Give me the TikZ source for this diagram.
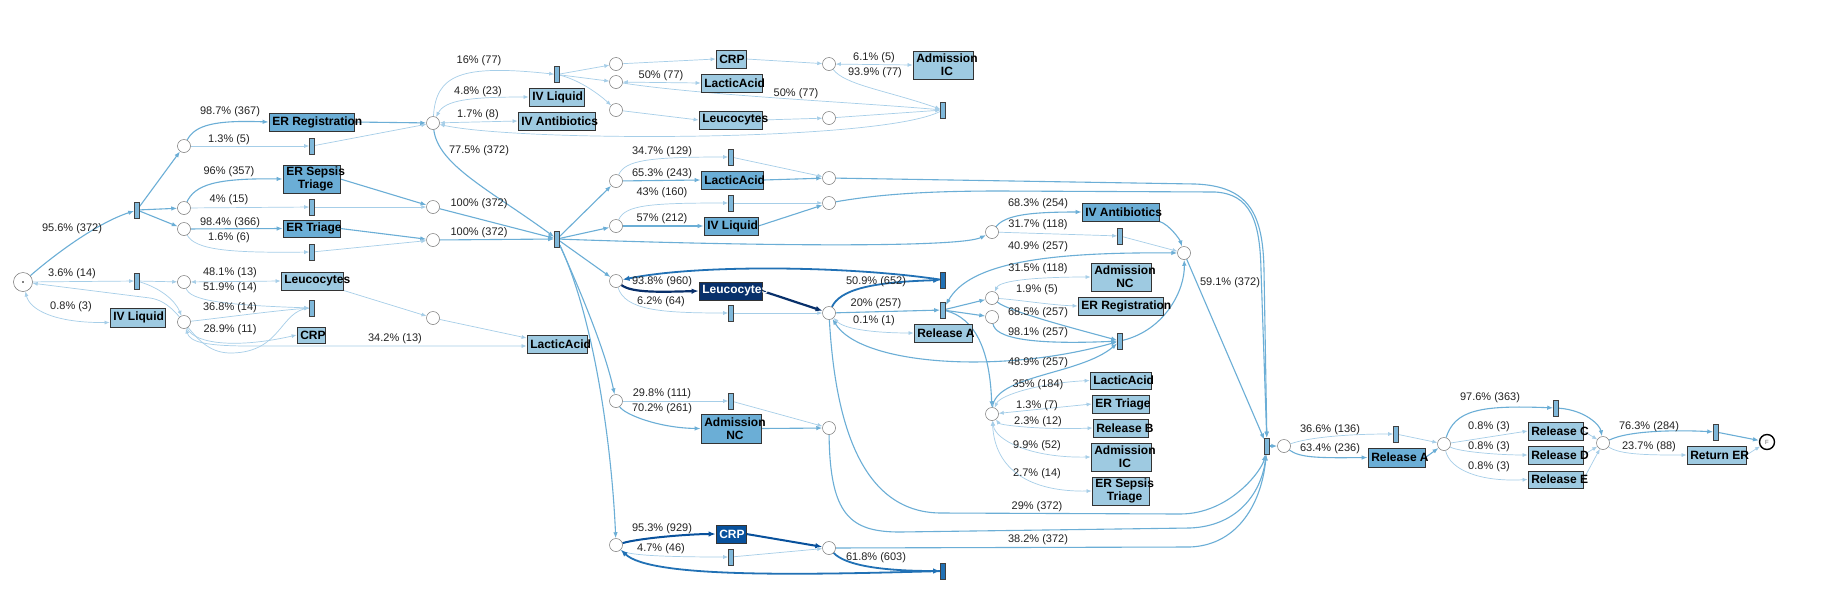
\documentclass[tikz,border=0pt]{standalone}
\usepackage{fontspec}
\setmainfont{Liberation Sans}
\usetikzlibrary{arrows.meta}
\definecolor{edgeL}{HTML}{A6CEE8}
\definecolor{edgeM}{HTML}{6BAED6}
\definecolor{edgeD}{HTML}{08306B}
\definecolor{edgeC}{HTML}{08519C}
\definecolor{edgeB}{HTML}{2171B5}
\definecolor{boxL}{HTML}{9ECAE1}
\definecolor{boxM}{HTML}{6BAED6}
\definecolor{boxD}{HTML}{08306B}
\definecolor{boxC}{HTML}{08519C}
\definecolor{gwL}{HTML}{7FB8DA}
\definecolor{gwD}{HTML}{2171B5}
\definecolor{labtxt}{HTML}{222222}
\pgfdeclarelayer{bg}
\pgfdeclarelayer{edges}
\pgfsetlayers{bg,edges,main}
\newcommand\actnode[7]{%
  \pgfmathsetmacro\actw{#5-#3}%
  \pgfmathsetmacro\acth{#6-#4}%
  \node[#2, minimum width=\actw pt, minimum height=\acth pt,
    label={[acttxt]west:#7}] (#1) at ({(#3+#5)/2},{(#4+#6)/2}) {};}
\begin{document}
\begin{tikzpicture}[x=1pt,y=-1pt,
  cn/.style={circle, draw=black!55, fill=white, line width=0.5pt, minimum size=13pt, inner sep=0pt},
  startn/.style={circle, draw=black!55, fill=white, line width=0.5pt, minimum size=19pt, inner sep=0pt},
  endn/.style={circle, draw=black, fill=white, line width=1.4pt, minimum size=15pt, inner sep=0pt, font=\fontsize{6}{6}\selectfont, text=black!60},
  gw/.style={rectangle, draw=black!75, fill=gwL, line width=0.6pt, minimum width=5pt, minimum height=16pt, inner sep=0pt},
  gwd/.style={gw, fill=gwD},
  act/.style={rectangle, draw=black!80, line width=0.8pt, inner sep=0pt},
  actL/.style={act, fill=boxL},
  actM/.style={act, fill=boxM},
  actD/.style={act, fill=boxD},
  actC/.style={act, fill=boxC},
  acttxt/.style={font=\fontsize{12}{13}\selectfont\bfseries, anchor=west, xshift=3.5pt, inner sep=0pt, align=center},
  elab/.style={font=\fontsize{11}{12}\selectfont, text=labtxt, inner sep=0pt},
  eL/.style={draw=edgeL, line width=0.7pt, -{Latex[length=5pt,width=4pt]}},
  eLb/.style={draw=edgeL, line width=0.7pt, {Latex[length=5pt,width=4pt]}-{Latex[length=5pt,width=4pt]}},
  eM/.style={draw=edgeM, line width=1.1pt, -{Latex[length=6pt,width=4.5pt]}},
  eMb/.style={draw=edgeM, line width=1.1pt, {Latex[length=6pt,width=4.5pt]}-{Latex[length=6pt,width=4.5pt]}},
  eB/.style={draw=edgeB, line width=1.8pt, -{Latex[length=7pt,width=5.5pt]}},
  eDk/.style={draw=edgeD, line width=2.2pt, -{Latex[length=7pt,width=5.5pt]}},
  eC/.style={draw=edgeC, line width=2pt, -{Latex[length=7pt,width=5.5pt]}},
]
\useasboundingbox (0,0) rectangle (1826,606);
\begin{pgfonlayer}{bg}
\fill[white] (0,0) rectangle (1826,606);
\end{pgfonlayer}

% ---------- circles ----------
\node[startn] (start) at (23,282) {};
\fill[black] (start) circle (0.8);
\node[endn] (F) at (1767,442) {F};
\foreach \n/\x/\y in {c1/184/146, c2/184/208, c3/184/229, c4/184/282, c5/184/322,
  c7/433/123, c8/433/207, c9/433/240, c6/433/318,
  c10/616/64, c11/616/82, c12/616/110, c15/616/181, c16/616/226, c17/616/281, c18/616/401, c19/616/545,
  c13/829/64, c14/829/118, c21/829/178, c22/829/203, c23/829/313, c24/829/428, c25/829/548,
  c20/992/232, c27/992/298, c28/992/317, c29/992/414, c26/1184/253,
  c30/1284/446, c31/1444/444, c32/1603/443}
  \node[cn] (\n) at (\x,\y) {};

% ---------- gateways ----------
\foreach \n/\x/\y in {g1/137/210, g2/137/281, r1/312/146, r2/312/207, r3/312/252, r4/312/308,
  rtop/557/74.5, G/557/239, rla/731/157, riv/731/203, rl/731/313, rnc/731/401, rc/731/557,
  ric/943/110, rx/943/310, rab/1120/236, ry/1120/341, Gf/1267/446,
  rra/1396/434, rc2/1556/408, rre/1716/432}
  \node[gw] (\n) at (\x,\y) {};
\node[gwd] (rd1) at (943,280) {};
\node[gwd] (rd2) at (943,571) {};

% ---------- activities ----------
\actnode{ivL}{actL}{110}{308}{165}{327}{IV Liquid}
\actnode{erReg}{actM}{269}{113}{354}{131}{ER Registration}
\actnode{erSep}{actM}{283}{165}{340}{193}{ER Sepsis\\Triage}
\actnode{erTri}{actM}{283}{220}{340}{237}{ER Triage}
\actnode{leuL}{actL}{281}{272}{343}{290}{Leucocytes}
\actnode{crpL}{actL}{297}{327}{325}{343}{CRP}
\actnode{ivT}{actL}{529}{88}{584}{106}{IV Liquid}
\actnode{ivAbT}{actL}{518}{112}{595}{130}{IV Antibiotics}
\actnode{lacL}{actL}{527}{335}{587}{353}{LacticAcid}
\actnode{crpT}{actL}{716}{50}{746}{68}{CRP}
\actnode{lacT}{actL}{701}{74}{762}{92}{LacticAcid}
\actnode{leuT}{actL}{699}{111}{762}{129}{Leucocytes}
\actnode{admICT}{actL}{913}{51}{973}{79}{Admission\\IC}
\actnode{lacM}{actM}{701}{171}{763}{189}{LacticAcid}
\actnode{ivM}{actM}{704}{217}{758}{235}{IV Liquid}
\actnode{leuD}{actD}{699}{282}{762}{300}{{\color{white}Leucocytes}}
\actnode{admNCM}{actM}{701}{414}{761}{443}{Admission\\NC}
\actnode{crpD}{actC}{716}{525}{746}{543}{{\color{white}CRP}}
\actnode{relAM}{actL}{914}{324}{972}{342}{Release A}
\actnode{ivAbR}{actM}{1082}{203}{1159}{221}{IV Antibiotics}
\actnode{admNCR}{actL}{1091}{263}{1151}{291}{Admission\\NC}
\actnode{erRegR}{actL}{1078}{297}{1163}{315}{ER Registration}
\actnode{lacR}{actL}{1090}{372}{1151}{389}{LacticAcid}
\actnode{erTriR}{actL}{1092}{395}{1149}{413}{ER Triage}
\actnode{relB}{actL}{1093}{419}{1148}{437}{Release B}
\actnode{admICR}{actL}{1091}{443}{1151}{471}{Admission\\IC}
\actnode{erSepR}{actL}{1092}{477}{1149}{505}{ER Sepsis\\Triage}
\actnode{relAR}{actM}{1368}{448}{1425}{467}{Release A}
\actnode{relC}{actL}{1528}{422}{1583}{440}{Release C}
\actnode{relD}{actL}{1528}{446}{1583}{464}{Release D}
\actnode{relE}{actL}{1528}{471}{1583}{488}{Release E}
\actnode{retER}{actL}{1687}{446}{1746}{464}{Return ER}

% ---------- edges ----------
\begin{pgfonlayer}{edges}
% left
\draw[eM] (start) .. controls (60,250) and (100,222) .. (g1);
\draw[eM] (g1) -- (c1);
\draw[eM] (g1) -- (c2);
\draw[eM] (g1) -- (c3);
\draw[eM] (c1) .. controls (195,125) and (215,120) .. (erReg.west);
\draw[eL] (c1) -- (r1);
\draw[eM] (c2) .. controls (195,185) and (215,178) .. (erSep.west);
\draw[eL] (c2) -- (r2);
\draw[eM] (c3) -- (erTri.west);
\draw[eL] (c3) .. controls (195,250) and (230,253) .. (r3);
\draw[eL] (start) -- (g2);
\draw[eLb] (start) .. controls (30,310) and (55,323) .. ([yshift=-5pt]ivL.west);
\draw[eL] (g2) -- (c4);
\draw[eL] (g2) .. controls (160,288) and (175,300) .. (c5);
\draw[eLb] (c4) -- (leuL.west);
\draw[eL] (c4) .. controls (190,300) and (220,305) .. (r4);
\draw[eL] (c5) .. controls (220,318) and (280,310) .. (r4);
\draw[eL] (r4) .. controls (280,310) and (282,352) .. (232,353) .. controls (190,354) and (185,303) .. (150,298) -- (start);
\draw[eL] (c5) .. controls (195,345) and (240,348) .. (crpL.west);
\draw[eLb] (c5) .. controls (190,342) and (205,346) .. (250,346) -- ([yshift=-2pt]lacL.west);
\draw[eL] (leuL.south east) -- (c6);
\draw[eL] (c6) -- ([yshift=6pt]lacL.west);
\draw[eL] (r1) -- (c7);
\draw[eM] (erReg.east) -- (c7);
\draw[eM] (erSep.east) -- (c8);
\draw[eL] (r2) -- (c8);
\draw[eM] (erTri.east) -- (c9);
\draw[eL] (r3) -- (c9);
\draw[eM] (c8) -- (G);
\draw[eM] (c9) -- (G);
\draw[eM] (c7) .. controls (438,165) and (490,190) .. (G);
% top
\draw[eL] (c7) .. controls (436,75) and (460,64) .. (rtop);
\draw[eLb] (c7) .. controls (445,100) and (470,97) .. (ivT.west);
\draw[eLb] (c7) -- (ivAbT.west);
\draw[eL] (ric) .. controls (880,142) and (520,142) .. (c7);
\draw[eL] (rtop) -- (c10);
\draw[eL] (rtop) -- (c11);
\draw[eL] (rtop) .. controls (580,80) and (600,95) .. (c12);
\draw[eL] (c10) -- (crpT.west);
\draw[eLb] (c11) -- (lacT.west);
\draw[eL] (c12) -- (leuT.west);
\draw[eL] (crpT.east) -- (c13);
\draw[eLb] (c13) -- (admICT.west);
\draw[eL] (c13) .. controls (845,85) and (885,90) .. (ric);
\draw[eL] (c11) .. controls (700,95) and (850,102) .. (ric);
\draw[eL] (leuT.east) -- (c14);
\draw[eL] (c14) -- (ric);
% middle
\draw[eM] (G) -- (c15);
\draw[eM] (G) -- (c16);
\draw[eM] (G) -- (c17);
\draw[eM] (G) .. controls (580,290) and (605,350) .. (c18);
\draw[eM] (G) .. controls (595,320) and (612,450) .. (c19);
\draw[eM] (G) .. controls (750,246) and (960,248) .. (c20);
\draw[eL] (c15) .. controls (625,160) and (650,157) .. (rla);
\draw[eM] (c15) -- (lacM.west);
\draw[eL] (rla) -- (c21);
\draw[eM] (lacM.east) -- (c21);
\draw[eM] (c21) -- (1195,184) .. controls (1250,186) and (1263,215) .. (1264,270) -- (Gf);
\draw[eL] (c16) .. controls (625,205) and (650,203) .. (riv);
\draw[eM] (c16) -- (ivM.west);
\draw[eL] (riv) -- (c22);
\draw[eM] (ivM.east) -- (c22);
\draw[eM] (c22) .. controls (880,194) and (930,191) .. (1000,191) -- (1215,192) .. controls (1250,194) and (1260,220) .. (1261,270) -- (Gf);
\draw[eDk] (c17) .. controls (632,293) and (660,292) .. (leuD.west);
\draw[eL] (c17) .. controls (625,310) and (660,313) .. (rl);
\draw[eDk] (leuD.east) -- (c23);
\draw[eL] (rl) -- (c23);
\draw[eB] (c23) .. controls (840,290) and (870,282) .. (rd1);
\draw[eB] (rd1) .. controls (850,266) and (700,264) .. (c17);
\draw[eM] (c23) -- (rx);
\draw[eLb] (c23) .. controls (845,330) and (880,333) .. (relAM.west);
\draw[eMb] (ry) .. controls (1000,375) and (860,365) .. (c23);
\draw[eM] (c23) .. controls (835,420) and (860,512) .. (940,513) -- (1180,514) .. controls (1230,514) and (1262,470) .. (Gf);
\draw[eM] (rx) -- (c27);
\draw[eM] (rx) -- (c28);
\draw[eM] (rx) .. controls (975,318) and (990,350) .. (c29);
\draw[eL] (c18) -- (rnc);
\draw[eM] (c18) .. controls (625,415) and (660,428) .. (admNCM.west);
\draw[eL] (rnc) -- (c24);
\draw[eM] (admNCM.east) -- (c24);
\draw[eM] (c24) .. controls (830,515) and (850,532) .. (900,532) -- (1190,528) .. controls (1240,526) and (1262,490) .. (Gf);
\draw[eC] (c19) .. controls (640,538) and (690,534) .. (crpD.west);
\draw[eL] (c19) .. controls (625,555) and (660,557) .. (rc);
\draw[eC] (crpD.east) -- (c25);
\draw[eL] (rc) -- (c25);
\draw[eB] (c25) .. controls (845,565) and (880,571) .. (rd2);
\draw[eB] (rd2) .. controls (800,575) and (650,578) .. (c19);
\draw[eM] (c25) -- (1190,547) .. controls (1240,545) and (1262,500) .. (Gf);
% right middle
\draw[eM] (c20) .. controls (1005,215) and (1030,212) .. (ivAbR.west);
\draw[eL] (c20) -- (rab);
\draw[eM] (ivAbR.south east) .. controls (1170,225) and (1180,240) .. (c26);
\draw[eL] (rab) -- (c26);
\draw[eMb] (rx) .. controls (970,262) and (1050,252) .. (c26);
\draw[eLb] (c27) .. controls (1000,280) and (1040,277) .. (admNCR.west);
\draw[eL] (c27) .. controls (1020,300) and (1050,305) .. (erRegR.west);
\draw[eM] (c27) .. controls (1010,312) and (1080,330) .. (ry);
\draw[eM] (c28) .. controls (995,338) and (1030,345) .. (ry);
\draw[eM] (ry) .. controls (1165,330) and (1185,290) .. (c26);
\draw[eM] (c29) .. controls (995,375) and (1080,375) .. (ry);
\draw[eLb] (c29) .. controls (1000,395) and (1040,383) .. (lacR.west);
\draw[eLb] (c29) -- (erTriR.west);
\draw[eLb] (c29) .. controls (1000,425) and (1040,430) .. (relB.west);
\draw[eLb] (c29) .. controls (995,440) and (1030,458) .. (admICR.west);
\draw[eLb] (c29) .. controls (995,470) and (1030,492) .. (erSepR.west);
\draw[eM] (c26) -- (Gf);
% right end
\draw[eM] (Gf) -- (c30);
\draw[eL] (c30) .. controls (1310,437) and (1350,434) .. (rra);
\draw[eM] (c30) .. controls (1300,458) and (1320,458) .. (relAR.west);
\draw[eL] (rra) -- (c31);
\draw[eM] (relAR.east) -- (c31);
\draw[eM] (c31) .. controls (1455,410) and (1480,405) .. (rc2);
\draw[eL] (c31) -- (relC.west);
\draw[eL] (c31) .. controls (1460,452) and (1500,455) .. (relD.west);
\draw[eL] (c31) .. controls (1450,470) and (1480,482) .. (relE.west);
\draw[eM] (rc2) .. controls (1585,410) and (1600,425) .. (c32);
\draw[eL] (relC.east) -- (c32);
\draw[eL] (relD.east) -- (c32);
\draw[eL] (relE.east) -- (c32);
\draw[eM] (c32) .. controls (1630,430) and (1680,430) .. (rre);
\draw[eL] (c32) .. controls (1620,455) and (1650,455) .. (retER.west);
\draw[eM] (rre) -- (F);
\draw[eL] (retER.east) -- (F);
\end{pgfonlayer}

% ---------- edge labels ----------
\node[elab] (l1) at (72,229) {95.6\% (372)};
\node[elab] (l2) at (230,112) {98.7\% (367)};
\node[elab] (l3) at (229,140) {1.3\% (5)};
\node[elab] (l4) at (229,172) {96\% (357)};
\node[elab] (l5) at (229,200) {4\% (15)};
\node[elab] (l6) at (230,223) {98.4\% (366)};
\node[elab] (l7) at (229,238) {1.6\% (6)};
\node[elab] (l8) at (72,274) {3.6\% (14)};
\node[elab] (l9) at (71,307) {0.8\% (3)};
\node[elab] (l10) at (230,273) {48.1\% (13)};
\node[elab] (l11) at (230,288) {51.9\% (14)};
\node[elab] (l12) at (230,308) {36.8\% (14)};
\node[elab] (l13) at (230,330) {28.9\% (11)};
\node[elab] (l14) at (395,339) {34.2\% (13)};
\node[elab] (l15) at (479,61) {16\% (77)};
\node[elab] (l16) at (478,92) {4.8\% (23)};
\node[elab] (l17) at (478,115) {1.7\% (8)};
\node[elab] (l18) at (479,151) {77.5\% (372)};
\node[elab] (l19) at (479,204) {100\% (372)};
\node[elab] (l20) at (479,233) {100\% (372)};
\node[elab] (l21) at (661,76) {50\% (77)};
\node[elab] (l22) at (796,94) {50\% (77)};
\node[elab] (l23) at (874,58) {6.1\% (5)};
\node[elab] (l24) at (875,73) {93.9\% (77)};
\node[elab] (l25) at (662,152) {34.7\% (129)};
\node[elab] (l26) at (662,174) {65.3\% (243)};
\node[elab] (l27) at (662,193) {43\% (160)};
\node[elab] (l28) at (662,219) {57\% (212)};
\node[elab] (l29) at (662,282) {93.8\% (960)};
\node[elab] (l30) at (661,302) {6.2\% (64)};
\node[elab] (l31) at (876,282) {50.9\% (652)};
\node[elab] (l32) at (876,304) {20\% (257)};
\node[elab] (l33) at (874,321) {0.1\% (1)};
\node[elab] (l34) at (662,394) {29.8\% (111)};
\node[elab] (l35) at (662,409) {70.2\% (261)};
\node[elab] (l36) at (662,529) {95.3\% (929)};
\node[elab] (l37) at (661,549) {4.7\% (46)};
\node[elab] (l38) at (876,558) {61.8\% (603)};
\node[elab] (l39) at (1038,204) {68.3\% (254)};
\node[elab] (l40) at (1038,225) {31.7\% (118)};
\node[elab] (l41) at (1038,247) {40.9\% (257)};
\node[elab] (l42) at (1038,269) {31.5\% (118)};
\node[elab] (l43) at (1037,290) {1.9\% (5)};
\node[elab] (l44) at (1038,313) {68.5\% (257)};
\node[elab] (l45) at (1038,333) {98.1\% (257)};
\node[elab] (l46) at (1038,363) {48.9\% (257)};
\node[elab] (l47) at (1038,385) {35\% (184)};
\node[elab] (l48) at (1037,406) {1.3\% (7)};
\node[elab] (l49) at (1038,422) {2.3\% (12)};
\node[elab] (l50) at (1037,446) {9.9\% (52)};
\node[elab] (l51) at (1037,474) {2.7\% (14)};
\node[elab] (l52) at (1037,507) {29\% (372)};
\node[elab] (l53) at (1038,540) {38.2\% (372)};
\node[elab] (l54) at (1230,283) {59.1\% (372)};
\node[elab] (l55) at (1330,430) {36.6\% (136)};
\node[elab] (l56) at (1330,449) {63.4\% (236)};
\node[elab] (l57) at (1490,398) {97.6\% (363)};
\node[elab] (l58) at (1489,427) {0.8\% (3)};
\node[elab] (l59) at (1489,447) {0.8\% (3)};
\node[elab] (l60) at (1489,467) {0.8\% (3)};
\node[elab] (l61) at (1649,427) {76.3\% (284)};
\node[elab] (l62) at (1649,447) {23.7\% (88)};
\end{tikzpicture}
\end{document}
